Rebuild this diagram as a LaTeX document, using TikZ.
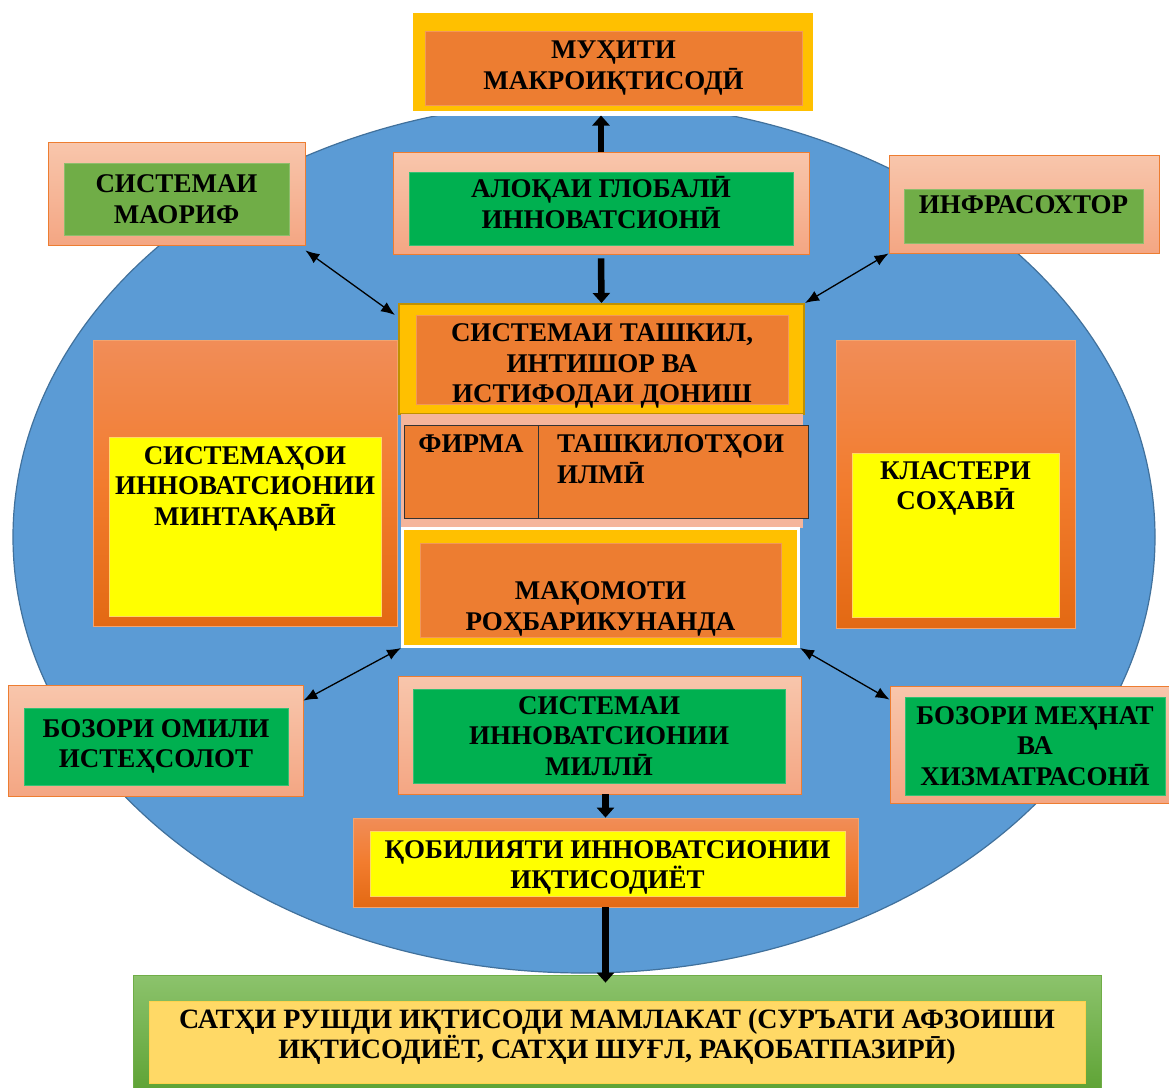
\documentclass[tikz,border=0pt]{standalone}
\usepackage{fontspec}
\setmainfont{Liberation Serif}
\usetikzlibrary{positioning,arrows.meta}
\definecolor{ovalblue}{HTML}{5B9BD5}
\definecolor{ovalline}{HTML}{41719C}
\definecolor{peachtop}{HTML}{F8C6AC}
\definecolor{peachbot}{HTML}{F4A683}
\definecolor{brandorange}{HTML}{ED7D31}
\definecolor{deepgreen}{HTML}{00B050}
\definecolor{leafgreen}{HTML}{70AD47}
\definecolor{gold}{HTML}{FFC000}
\definecolor{goldline}{HTML}{BF9000}
\definecolor{brightyellow}{HTML}{FFFF00}
\definecolor{oratop}{HTML}{F18D58}
\definecolor{oramid}{HTML}{F27C2E}
\definecolor{orabot}{HTML}{E36913}
\definecolor{tablebg}{HTML}{F5B59B}
\definecolor{grntop}{HTML}{8CC36C}
\definecolor{grnbot}{HTML}{5DA233}
\definecolor{sand}{HTML}{FFD966}
\tikzset{
	boxsize/.style 2 args = {minimum width=#1pt, minimum height=#2pt, inner sep=0},
	peach/.style = {draw=brandorange, line width=0.8pt, top color=peachtop, bottom color=peachbot},
	glowing/.style = {draw=brandorange!70, line width=0.8pt, top color=oratop, bottom color=orabot, middle color=oramid},
	core/.style = {fill=brandorange, draw=brandorange!80!white},
	greencore/.style = {fill=deepgreen, draw=deepgreen!80!white},
	leafcore/.style = {fill=leafgreen, draw=leafgreen!80!white},
	yellowcore/.style = {fill=brightyellow, draw=gold!60},
	cellbox/.style = {fill=brandorange, draw=black!80, line width=1pt},
	txt/.style = {font=\bfseries\fontsize{27}{30.5}\selectfont, align=center},
	bigarrow/.style = {line width=6.5pt, -{Triangle[length=10pt,width=17pt]}},
	twoway/.style = {line width=1.3pt, {Latex[length=14pt,width=11pt]}-{Latex[length=14pt,width=11pt]}}
}
\begin{document}
\begin{tikzpicture}[x=1pt, y=-1pt]
	\useasboundingbox (0,0) rectangle (1169,1087);
	\fill [white] (0,0) rectangle (1169,1087);
	\filldraw [fill=ovalblue, draw=ovalline, line width=1.2pt] (584,537) ellipse [x radius=571pt, y radius=436pt];
	
	\node [fill=gold, draw=white, line width=5pt, boxsize={405}{103}] (macro) at (612.5,61.5) {};
	\node [core, boxsize={377}{74}, txt] (macrocore) at (613.5,68) {МУҲИТИ\\МАКРОИҚТИСОДӢ};
	
	\node [peach, boxsize={416}{102}] (global) at (601,203) {};
	\node [greencore, boxsize={384}{73}] (globalcore) at (601,208.5) {};
	\node [txt] (globaltext) at (601,202.5) {АЛОҚАИ ГЛОБАЛӢ\\ИННОВАТСИОНӢ};
	
	\node [peach, boxsize={257}{103}] (maorif) at (176.5,193.5) {};
	\node [leafcore, boxsize={225}{72}, txt] (maorifcore) at (176.5,199) {СИСТЕМАИ\\МАОРИФ};
	
	\node [peach, boxsize={270}{98}] (infra) at (1024,204) {};
	\node [leafcore, boxsize={239}{54}] (infracore) at (1023.5,216) {};
	\node [txt, below=3pt of infracore.north] (infratext) {ИНФРАСОХТОР};
	
	\node [fill=gold, draw=goldline, line width=2pt, boxsize={405}{110}] (tashkil) at (601.5,359) {};
	\node [core, boxsize={372}{89}] (tashkilcore) at (602,359.5) {};
	\node [txt] (tashkiltext) at (602,366) {СИСТЕМАИ ТАШКИЛ,\\ИНТИШОР ВА\\ИСТИФОДАИ ДОНИШ};
	
	\node [fill=tablebg, boxsize={402}{114}] (tableback) at (602,471) {};
	\node [cellbox, boxsize={134}{93}] (firmcell) at (471,471.5) {};
	\node [cellbox, boxsize={270}{93}] (sciencecell) at (673,471.5) {};
	\node [txt, below=7pt of firmcell.north] (firmtext) {ФИРМА};
	\node [txt, align=left, below right=7pt and 16pt of sciencecell.north west] (sciencetext) {ТАШКИЛОТҲОИ\\ИЛМӢ};
	
	\node [fill=gold, draw=white, line width=3pt, boxsize={396}{118}] (maqom) at (600.5,587.5) {};
	\node [core, boxsize={361}{94}] (maqomcore) at (600.5,590) {};
	\node [txt] (maqomtext) at (600.5,609) {МАҚОМОТИ\\РОҲБАРИКУНАНДА};
	
	\node [glowing, boxsize={304}{286}] (region) at (245,483) {};
	\node [yellowcore, boxsize={272}{179}] (regioncore) at (245,526.5) {};
	\node [txt, below=6pt of regioncore.north] (regiontext) {СИСТЕМАҲОИ\\ИННОВАТСИОНИИ\\МИНТАҚАВӢ};
	
	\node [glowing, boxsize={239}{288}] (cluster) at (955.5,484) {};
	\node [yellowcore, boxsize={207}{164}] (clustercore) at (955.5,535) {};
	\node [txt, below=5pt of clustercore.north] (clustertext) {КЛАСТЕРИ\\СОҲАВӢ};
	
	\node [peach, boxsize={295}{111}] (factor) at (155.5,740.5) {};
	\node [greencore, boxsize={264}{77}, txt] (factorcore) at (156,746.5) {БОЗОРИ ОМИЛИ\\ИСТЕҲСОЛОТ};
	
	\node [peach, boxsize={403}{118}] (national) at (599.5,735) {};
	\node [greencore, boxsize={372}{94}, txt] (nationalcore) at (599,736) {СИСТЕМАИ\\ИННОВАТСИОНИИ\\МИЛЛӢ};
	
	\node [peach, boxsize={279}{117}] (labour) at (1029.5,744.5) {};
	\node [greencore, boxsize={260}{98}, txt] (labourcore) at (1035,746) {БОЗОРИ МЕҲНАТ\\ВА\\ХИЗМАТРАСОНӢ};
	
	\node [glowing, boxsize={505}{89}] (capacity) at (605.5,862.5) {};
	\node [yellowcore, boxsize={475}{65}] (capacitycore) at (607.5,863.5) {};
	\node [txt] (capacitytext) at (607.5,867.5) {ҚОБИЛИЯТИ ИННОВАТСИОНИИ\\ИҚТИСОДИЁТ};
	
	\node [draw=leafgreen, line width=0.8pt, top color=grntop, bottom color=grnbot, boxsize={968}{120}] (level) at (617,1035) {};
	\node [fill=sand, draw=gold!70, boxsize={936}{82}] (levelcore) at (617,1042) {};
	\node [txt, font=\bfseries\fontsize{28}{30.5}\selectfont] (leveltext) at (617,1037) {САТҲИ РУШДИ ИҚТИСОДИ МАМЛАКАТ (СУРЪАТИ АФЗОИШИ\\ИҚТИСОДИЁТ, САТҲИ ШУҒЛ, РАҚОБАТПАЗИРӢ)};
	
	\draw [bigarrow] (global.north) -- (global.north |- macro.south);
	\draw [bigarrow] ([yshift=-4pt]global.south) -- (tashkil.north);
	\draw [twoway] ([yshift=-5pt]maorif.south east) -- ([xshift=-3pt,yshift=-12pt]tashkil.north west);
	\draw [twoway] (infra.south west) -- (tashkil.north east);
	\draw [twoway] (maqom.south west) -- ([yshift=-16pt]factor.north east);
	\draw [twoway] (maqom.south east) -- ([yshift=-14pt]labour.north west);
	\draw [bigarrow] (capacity.north |- national.south) -- (capacity.north);
	\draw [bigarrow] (capacity.south) -- ([yshift=-8pt]capacity.south |- level.north);
\end{tikzpicture}
\end{document}
